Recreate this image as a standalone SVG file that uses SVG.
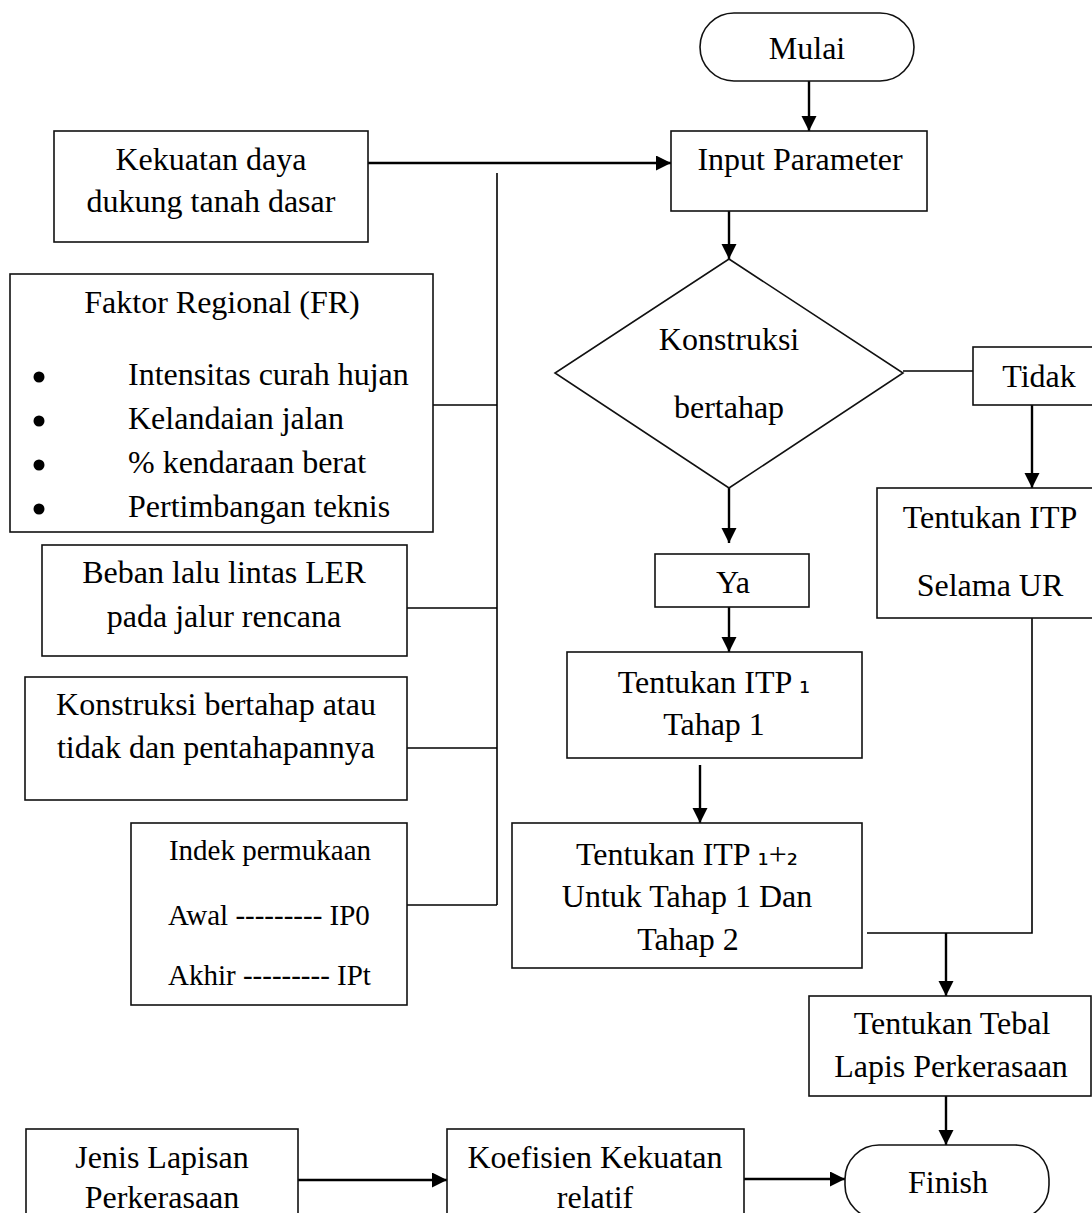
<svg xmlns="http://www.w3.org/2000/svg" width="1092" height="1213" viewBox="0 0 1092 1213">
<defs>
<marker id="arr" markerUnits="userSpaceOnUse" markerWidth="16" markerHeight="16" refX="15" refY="7.5" orient="auto">
<path d="M0,0 L15,7.5 L0,15 z" fill="#000"/>
</marker>
<style>
.box{fill:#fff;stroke:#111;stroke-width:1.6}
.t{font-family:"Liberation Serif","Times New Roman",serif;font-size:32px;fill:#000}
.c{text-anchor:middle}
.s{font-size:29px}
.sub{font-family:"DejaVu Sans",sans-serif;font-size:28px}
.ln{stroke:#000;stroke-width:1.6;fill:none}
.ar{stroke:#000;stroke-width:2.4;fill:none;marker-end:url(#arr)}
</style>
</defs>
<rect width="1092" height="1213" fill="#fff"/>

<g id="connectors">
<line class="ar" x1="809" y1="81" x2="809" y2="131"/>
<line class="ar" x1="368" y1="163" x2="671" y2="163"/>
<line class="ln" x1="497" y1="173" x2="497" y2="905"/>
<line class="ln" x1="433" y1="405" x2="497" y2="405"/>
<line class="ln" x1="407" y1="608" x2="497" y2="608"/>
<line class="ln" x1="407" y1="748" x2="497" y2="748"/>
<line class="ln" x1="407" y1="905" x2="497" y2="905"/>
<line class="ar" x1="729" y1="211" x2="729" y2="259"/>
<line class="ln" x1="903" y1="371" x2="973" y2="371"/>
<line class="ar" x1="1032" y1="405" x2="1032" y2="488"/>
<line class="ar" x1="729" y1="488" x2="729" y2="543"/>
<line class="ar" x1="729" y1="607" x2="729" y2="652"/>
<line class="ar" x1="700" y1="765" x2="700" y2="823"/>
<polyline class="ln" points="867,933 1032,933 1032,618"/>
<line class="ar" x1="946" y1="933" x2="946" y2="996"/>
<line class="ar" x1="946" y1="1096" x2="946" y2="1145"/>
<line class="ar" x1="298" y1="1180" x2="447" y2="1180"/>
<line class="ar" x1="744" y1="1179" x2="845" y2="1179"/>
</g>

<g id="mulai">
<rect class="box" x="700" y="13" width="214" height="68" rx="34" ry="34"/>
<text class="t c" x="807" y="59">Mulai</text>
</g>

<g id="input-parameter">
<rect class="box" x="671" y="131" width="256" height="80"/>
<text class="t c" x="800" y="170">Input Parameter</text>
</g>

<g id="kekuatan">
<rect class="box" x="54" y="131" width="314" height="111"/>
<text class="t c" x="211" y="170">Kekuatan daya</text>
<text class="t c" x="211" y="212">dukung tanah dasar</text>
</g>

<g id="faktor-regional">
<rect class="box" x="10" y="274" width="423" height="258"/>
<text class="t c" x="222" y="313">Faktor Regional (FR)</text>
<circle cx="39" cy="377" r="5.5"/>
<circle cx="39" cy="421" r="5.5"/>
<circle cx="39" cy="465" r="5.5"/>
<circle cx="39" cy="509" r="5.5"/>
<text class="t" x="128" y="385">Intensitas curah hujan</text>
<text class="t" x="128" y="429">Kelandaian jalan</text>
<text class="t" x="128" y="473">% kendaraan berat</text>
<text class="t" x="128" y="517">Pertimbangan teknis</text>
</g>

<g id="beban">
<rect class="box" x="42" y="545" width="365" height="111"/>
<text class="t c" x="224" y="583">Beban lalu lintas LER</text>
<text class="t c" x="224" y="627">pada jalur rencana</text>
</g>

<g id="konstruksi-bertahap-input">
<rect class="box" x="25" y="677" width="382" height="123"/>
<text class="t c" x="216" y="715">Konstruksi bertahap atau</text>
<text class="t c" x="216" y="758">tidak dan pentahapannya</text>
</g>

<g id="indek">
<rect class="box" x="131" y="823" width="276" height="182"/>
<text class="t s c" x="270" y="860">Indek permukaan</text>
<text class="t s" x="168" y="925">Awal --------- IP0</text>
<text class="t s" x="168" y="985">Akhir --------- IPt</text>
</g>

<g id="keputusan">
<polygon class="box" points="729,259 903,373 729,488 555,373"/>
<text class="t c" x="729" y="350">Konstruksi</text>
<text class="t c" x="729" y="418">bertahap</text>
</g>

<g id="tidak">
<rect class="box" x="973" y="347" width="140" height="58"/>
<text class="t c" x="1039" y="387">Tidak</text>
</g>

<g id="itp-ur">
<rect class="box" x="877" y="488" width="240" height="130"/>
<text class="t c" x="990" y="528">Tentukan ITP</text>
<text class="t c" x="990" y="596">Selama UR</text>
</g>

<g id="ya">
<rect class="box" x="655" y="554" width="154" height="53"/>
<text class="t c" x="733" y="593">Ya</text>
</g>

<g id="itp1">
<rect class="box" x="567" y="652" width="295" height="106"/>
<text class="t c" x="714" y="693">Tentukan ITP <tspan class="sub">₁</tspan></text>
<text class="t c" x="714" y="735">Tahap 1</text>
</g>

<g id="itp12">
<rect class="box" x="512" y="823" width="350" height="145"/>
<text class="t c" x="687" y="865">Tentukan ITP <tspan class="sub">₁</tspan>+<tspan class="sub">₂</tspan></text>
<text class="t c" x="687" y="907">Untuk Tahap 1 Dan</text>
<text class="t c" x="688" y="950">Tahap 2</text>
</g>

<g id="tebal">
<rect class="box" x="809" y="996" width="282" height="100"/>
<text class="t c" x="952" y="1034">Tentukan Tebal</text>
<text class="t c" x="951" y="1077">Lapis Perkerasaan</text>
</g>

<g id="finish">
<rect class="box" x="845" y="1145" width="204" height="74" rx="34" ry="34"/>
<text class="t c" x="948" y="1193">Finish</text>
</g>

<g id="jenis">
<rect class="box" x="26" y="1129" width="272" height="120"/>
<text class="t c" x="162" y="1168">Jenis Lapisan</text>
<text class="t c" x="162" y="1208">Perkerasaan</text>
</g>

<g id="koefisien">
<rect class="box" x="447" y="1129" width="297" height="120"/>
<text class="t c" x="595" y="1168">Koefisien Kekuatan</text>
<text class="t c" x="595" y="1208">relatif</text>
</g>
</svg>
